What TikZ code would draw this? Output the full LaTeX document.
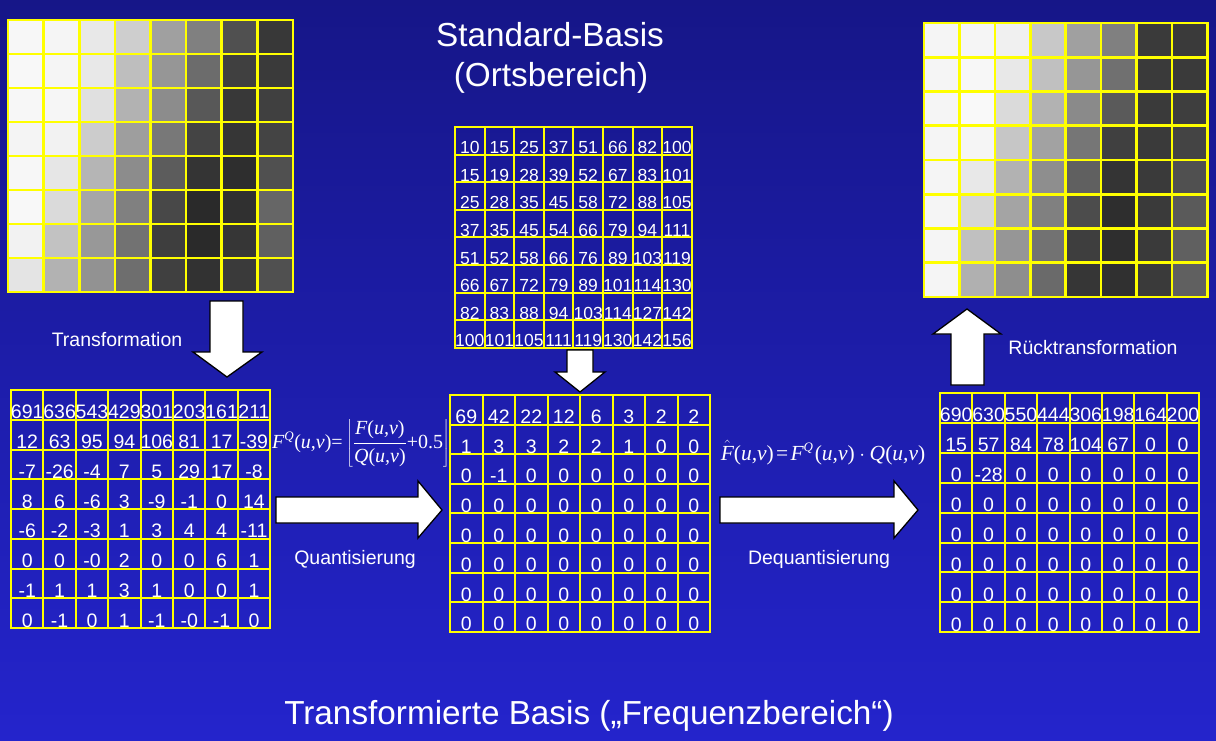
\documentclass[tikz,border=0pt]{standalone}
\usepackage{fontspec}
\setmainfont{Liberation Sans}
\newfontfamily\tms{Liberation Serif}
\newcommand\tm[1]{\hbox{\tms #1}}
\newcommand\tmsup[1]{\hbox{\tms\fontsize{13}{13}\selectfont\itshape #1}}
\definecolor{bgtop}{RGB}{22,22,136}
\definecolor{bgbot}{RGB}{36,36,204}
\definecolor{gridyellow}{RGB}{255,255,0}
\tikzset{
  gridline/.style={draw=gridyellow, line width=2pt, line cap=rect},
  grayline/.style={draw=gridyellow, line width=2.6pt, line cap=rect},
  numtext/.style={text=white, inner sep=0pt, anchor=base},
  lbl/.style={text=white, inner sep=0pt, anchor=base},
  blockarrow/.style={draw=black, fill=white, line width=1.3pt, line join=miter},
}
\newcommand\mynumgrid[7]{%
  \foreach \k in {0,...,8} {
    \draw[gridline] ({#1+\k*#3},#2) -- ({#1+\k*#3},{#2+8*#4});
    \draw[gridline] (#1,{#2+\k*#4}) -- ({#1+8*#3},{#2+\k*#4});
  }
  \foreach \row [count=\i] in {#6} {
    \foreach \v [count=\j] in \row {
      \node[numtext, font=\fontsize{#5}{#5}\selectfont] (#7-\i-\j) at ({#1+(\j-0.5)*#3},{#2+\i*#4-1}) {\v};
    }
  }
}
\newcommand\mygraygrid[5]{%
  \foreach \row [count=\i] in {#5} {
    \foreach \v [count=\j] in \row {
      \fill[fill={rgb,255:red,\v;green,\v;blue,\v}] ({#1+(\j-1)*#3},{#2+(\i-1)*#4}) rectangle ({#1+\j*#3},{#2+\i*#4});
    }
  }
  \foreach \k in {0,...,8} {
    \draw[grayline] ({#1+\k*#3},#2) -- ({#1+\k*#3},{#2+8*#4});
    \draw[grayline] (#1,{#2+\k*#4}) -- ({#1+8*#3},{#2+\k*#4});
  }
}
\begin{document}
\begin{tikzpicture}[x=1pt,y=-1pt]
\useasboundingbox (0,0) rectangle (1216,741);
\shade[top color=bgtop, bottom color=bgbot] (0,0) rectangle (1216,741);

% grayscale images
\mygraygrid{8}{20}{35.6}{34}{{247,245,232,206,160,128,80,56},{248,245,232,190,150,108,64,58},{247,246,224,178,140,88,56,64},{244,242,204,158,120,68,54,68},{247,230,181,140,92,52,46,80},{248,218,166,128,72,42,48,102},{242,194,152,114,62,42,54,96},{228,178,146,110,64,50,58,80}}
\mygraygrid{924}{23}{35.4}{34.25}{{245,245,240,200,160,128,58,58},{245,247,232,192,150,112,58,58},{245,249,218,178,138,90,58,62},{245,245,198,162,118,64,58,68},{245,232,178,142,96,52,58,80},{245,214,164,128,76,46,58,90},{245,192,150,114,62,46,58,96},{245,176,142,106,54,48,58,96}}

% number grids
\mynumgrid{455}{127}{29.6}{27.6}{17.5}{{10,15,25,37,51,66,82,100},{15,19,28,39,52,67,83,101},{25,28,35,45,58,72,88,105},{37,35,45,54,66,79,94,111},{51,52,58,66,76,89,103,119},{66,67,72,79,89,101,114,130},{82,83,88,94,103,114,127,142},{100,101,105,111,119,130,142,156}}{sb}
\mynumgrid{11}{390}{32.4}{29.75}{19.5}{{691,636,543,429,301,203,161,211},{12,63,95,94,106,81,17,-39},{-7,-26,-4,7,5,29,17,-8},{8,6,-6,3,-9,-1,0,14},{-6,-2,-3,1,3,4,4,-11},{0,0,-0,2,0,0,6,1},{-1,1,1,3,1,0,0,1},{0,-1,0,1,-1,-0,-1,0}}{tr}
\mynumgrid{450}{395}{32.5}{29.6}{19.5}{{69,42,22,12,6,3,2,2},{1,3,3,2,2,1,0,0},{0,-1,0,0,0,0,0,0},{0,0,0,0,0,0,0,0},{0,0,0,0,0,0,0,0},{0,0,0,0,0,0,0,0},{0,0,0,0,0,0,0,0},{0,0,0,0,0,0,0,0}}{qu}
\mynumgrid{940}{393}{32.4}{29.9}{19.5}{{690,630,550,444,306,198,164,200},{15,57,84,78,104,67,0,0},{0,-28,0,0,0,0,0,0},{0,0,0,0,0,0,0,0},{0,0,0,0,0,0,0,0},{0,0,0,0,0,0,0,0},{0,0,0,0,0,0,0,0},{0,0,0,0,0,0,0,0}}{dq}

% block arrows
\draw[blockarrow] (210,301) -- (243,301) -- (243,352) -- (262,352) -- (227,377) -- (193,352) -- (210,352) -- cycle;
\draw[blockarrow] (951,385) -- (984,385) -- (984,334) -- (1001,334) -- (967,309) -- (933,334) -- (951,334) -- cycle;
\draw[blockarrow] (567,350) -- (593,350) -- (593,372) -- (605,372) -- (580,392) -- (555,372) -- (567,372) -- cycle;
\draw[blockarrow] (276,497) -- (418,497) -- (418,481) -- (442,510) -- (418,538) -- (418,523) -- (276,523) -- cycle;
\draw[blockarrow] (720,497) -- (894,497) -- (894,481) -- (918,510) -- (894,538) -- (894,523) -- (720,523) -- cycle;

% labels
\node[lbl, font=\fontsize{33.3}{36}\selectfont] (title1) at (550,47) {Standard-Basis};
\node[lbl, font=\fontsize{33.3}{36}\selectfont] (title2) at (551,87) {(Ortsbereich)};
\node[lbl, font=\fontsize{19.5}{22}\selectfont] (ltrans) at (117,346) {Transformation};
\node[lbl, font=\fontsize{19.5}{22}\selectfont] (lrueck) at (1093,354) {Rücktransformation};
\node[lbl, font=\fontsize{19.5}{22}\selectfont] (lquant) at (355,564) {Quantisierung};
\node[lbl, font=\fontsize{19.5}{22}\selectfont] (ldequant) at (819,564) {Dequantisierung};
\node[lbl, font=\fontsize{33.3}{36}\selectfont] (bottom) at (589,724) {Transformierte Basis („Frequenzbereich“)};

% formulas
\node[text=white, inner sep=0pt, font=\fontsize{20}{24}\selectfont] (fq) at (361,443) {$\tm{\itshape F}^{\tmsup{Q}}\tm{(\itshape u,v\upshape)=}\left\lfloor\displaystyle\frac{\tm{\itshape F\upshape(\itshape u,v\upshape)}}{\tm{\itshape Q\upshape(\itshape u,v\upshape)}}\tm{+0.5}\right\rfloor$};
\node[lbl, font=\fontsize{21.5}{24}\selectfont] (fhat) at (823,460) {$\hat{\tm{\itshape F}}\tm{(\itshape u,v\upshape)}\mskip2mu\tm{=}\mskip2mu\tm{\itshape F}^{\tmsup{Q}}\mskip1mu\tm{(\itshape u,v\upshape)}\cdot\tm{\itshape Q\upshape(\itshape u,v\upshape)}$};
\end{tikzpicture}
\end{document}
